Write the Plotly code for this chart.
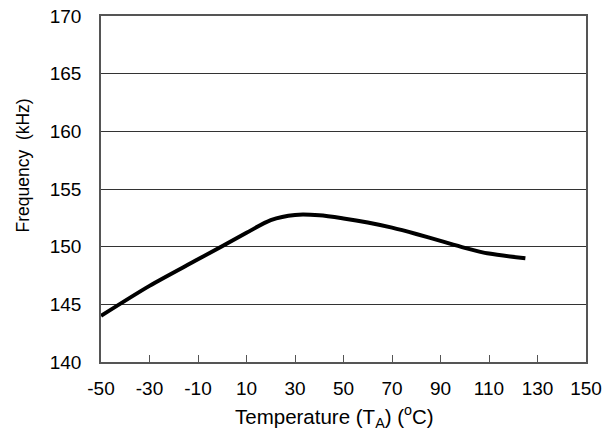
import plotly.graph_objects as go

temps = [-50, -30, -10, 10, 20, 30, 40, 50, 60, 70, 80, 90, 100, 110, 125]
freqs = [144.0, 146.6, 148.9, 151.2, 152.3, 152.75, 152.72, 152.45, 152.1, 151.65, 151.1, 150.5, 149.9, 149.4, 149.0]

x_ticks = list(range(-50, 151, 20))
y_ticks = list(range(140, 171, 5))

x_title = "Temperature (T<sub>A</sub>) (<sup>o</sup>C)"
y_title = "Frequency  (kHz)"

fig = go.Figure()
fig.add_trace(go.Scatter(
    x=temps, y=freqs, mode="lines",
    line=dict(color="black", width=4, shape="spline", smoothing=0.8),
    showlegend=False, hoverinfo="skip",
))

FAM = "Liberation Sans, Arial, sans-serif"
font = dict(family=FAM, size=19, color="black")

fig.update_layout(
    width=604, height=433,
    margin=dict(l=101, r=18, t=16, b=71, autoexpand=False),
    paper_bgcolor="white", plot_bgcolor="white",
    font=font,
    xaxis=dict(
        range=[-50, 150], tickvals=x_ticks, ticktext=[str(v) for v in x_ticks],
        showgrid=False, zeroline=False, automargin=False,
        showline=True, linecolor="#555", linewidth=1.5, mirror=True,
        ticks="inside", ticklen=7, tickcolor="#555",
        tickfont=dict(size=19), ticklabeloverflow="allow", ticklabelstandoff=8,
    ),
    yaxis=dict(
        range=[140, 170], tickvals=y_ticks, ticktext=[str(v) for v in y_ticks],
        showgrid=True, gridcolor="#333", gridwidth=1,
        zeroline=False, automargin=False,
        showline=True, linecolor="#555", linewidth=1.5, mirror=True,
        ticks="",
        tickfont=dict(size=19), ticklabeloverflow="allow", ticklabelstandoff=14,
    ),
    annotations=[
        dict(text=x_title, xref="paper", yref="paper", x=0.482, y=-0.157,
             xanchor="center", yanchor="middle", showarrow=False,
             font=dict(family=FAM, size=20.5, color="black")),
        dict(text=y_title, xref="paper", yref="paper", x=-0.16, y=0.569,
             xanchor="center", yanchor="middle", showarrow=False, textangle=-90,
             font=dict(family=FAM, size=17.5, color="black")),
    ],
)

# remove the browser's default 8px body margin so the figure sits at the page origin
fig.write_html("out.html", config={"displayModeBar": False},
               post_script="document.body.style.margin='0';")
